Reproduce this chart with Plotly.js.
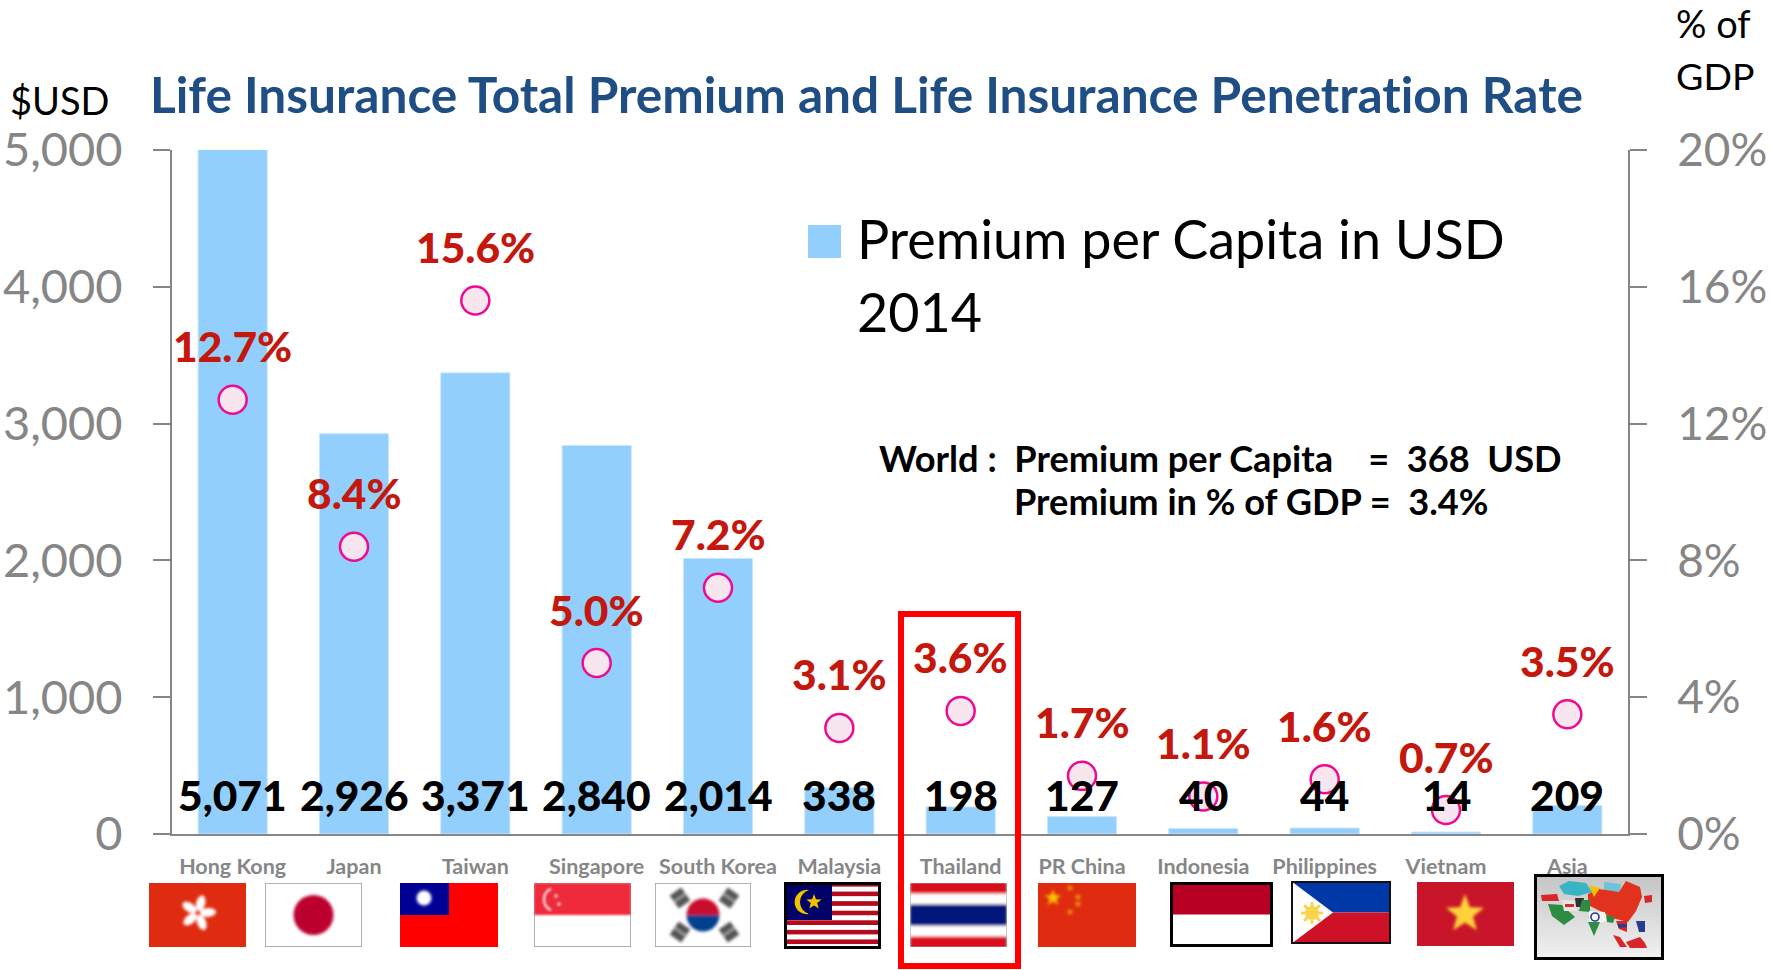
<!DOCTYPE html>
<html>
<head>
<meta charset="utf-8">
<script src="https://cdn.plot.ly/plotly-3.0.1.min.js"></script>
<style>html,body{margin:0;padding:0;background:#fff;overflow:hidden}#chart{width:1771px;height:970px}#chart text{font-variant-ligatures:none !important;font-feature-settings:"liga" 0 !important}</style>
</head>
<body>
<div id="chart"></div>
<script>
const categories = ["Hong Kong","Japan","Taiwan","Singapore","South Korea","Malaysia","Thailand","PR China","Indonesia","Philippines","Vietnam","Asia"];
const premiumPerCapita = [5071,2926,3371,2840,2014,338,198,127,40,44,14,209];
const penetrationRate = [12.7,8.4,15.6,5.0,7.2,3.1,3.6,1.7,1.1,1.6,0.7,3.5];
const penetrationLabels = ["12.7%","8.4%","15.6%","5.0%","7.2%","3.1%","3.6%","1.7%","1.1%","1.6%","0.7%","3.5%"];
const premiumLabels = ["5,071","2,926","3,371","2,840","2,014","338","198","127","40","44","14","209"];
const leftTicks = [0,1000,2000,3000,4000,5000];
const rightTicks = [0,4,8,12,16,20];
const rightTickLabels = ["0%","4%","8%","12%","16%","20%"];

const W = 1771, H = 970, L = 172, R = 1628, T = 150, B = 834;
const FONT = "Lato, Carlito, sans-serif";
const GRAY = "#868686";
const px = x => (x - L) / (R - L);
const py = y => (B - y) / (B - T);

function star(cx, cy, r, fill){
  let p = [];
  for (let i = 0; i < 10; i++){
    const a = -Math.PI/2 + i*Math.PI/5, q = i%2 ? r*0.42 : r;
    p.push((cx+q*Math.cos(a)).toFixed(1)+","+(cy+q*Math.sin(a)).toFixed(1));
  }
  return `<polygon points="${p.join(" ")}" fill="${fill}"/>`;
}
const blur = s => `<defs><filter id="b" x="-20%" y="-20%" width="140%" height="140%"><feGaussianBlur stdDeviation="${s}"/></filter></defs>`;

const flagArt = {
  hk: (w,h)=>{ let pet=""; for(let i=0;i<5;i++) pet+=`<ellipse cx="49" cy="20" rx="4.5" ry="8" fill="#fff" transform="rotate(${i*72+15} 49 30)"/>`;
    return `${blur(1.4)}<rect width="${w}" height="${h}" fill="#DF2C10"/><g filter="url(#b)">${pet}</g>`; },
  jp: (w,h)=>`${blur(1.4)}<rect width="${w}" height="${h}" fill="#fff" stroke="#999" stroke-width="1.5"/><ellipse cx="${w/2}" cy="${h/2}" rx="20" ry="20" fill="#BC002D" filter="url(#b)"/>`,
  tw: (w,h)=>`${blur(1.8)}<rect width="${w}" height="${h}" fill="#FE0000"/><rect width="${w/2}" height="${h/2}" fill="#000095"/><circle cx="24" cy="15" r="7.5" fill="#fff" filter="url(#b)"/>`,
  sg: (w,h)=>`${blur(1.1)}<rect width="${w}" height="${h}" fill="#fff" stroke="#999" stroke-width="1.5"/><rect width="${w}" height="${h/2}" fill="#EE2B3A" filter="url(#b)"/><g filter="url(#b)"><path d="M17 6 A10 11 0 0 0 17 27" fill="none" stroke="#fbd4d6" stroke-width="2.6"/><circle cx="22" cy="13" r="1.8" fill="#fbd4d6"/><circle cx="25" cy="21" r="1.8" fill="#fbd4d6"/></g>`,
  kr: (w,h)=>{ const tri=(x,y,r)=>`<g transform="rotate(${r} ${x} ${y})"><rect x="${x-7}" y="${y-8}" width="14" height="16" fill="#555"/><rect x="${x-8}" y="${y-1}" width="16" height="1.5" fill="#bbb"/></g>`;
    return `${blur(1.6)}<rect width="${w}" height="${h}" fill="#fff" stroke="#999" stroke-width="1.5"/><g filter="url(#b)">${tri(25,15,-35)}${tri(74,15,35)}${tri(25,49,35)}${tri(74,49,-35)}<path d="M31.5 32 A16.5 16.5 0 0 1 64.5 32 Z" fill="#C8102E"/><path d="M31.5 32 A16.5 16.5 0 0 0 64.5 32 Z" fill="#00418C"/></g>`; },
  my: (w,h)=>{ let s=""; for(let i=0;i<14;i++) s+=`<rect y="${i*h/14}" width="${w}" height="${h/14}" fill="${i%2?'#fff':'#B50A1E'}"/>`;
    return `${s}<rect width="48" height="38" fill="#010066"/><path d="M25 8 A12.2 12.2 0 1 0 25 32 A12.5 12.5 0 0 1 25 8" fill="#F2C200"/>${star(30,20,8,"#F2C200")}<rect x="1.5" y="1.5" width="${w-3}" height="${h-3}" fill="none" stroke="#000" stroke-width="3"/>`; },
  th: (w,h)=>`${blur(1.8)}<g filter="url(#b)"><rect y="-4" width="${w}" height="${h+8}" fill="#D90E1A"/><rect y="${h/6}" width="${w}" height="${h*2/3}" fill="#fff"/><rect y="${h/3}" width="${w}" height="${h/3}" fill="#00187A"/></g><rect width="${w}" height="${h}" fill="none" stroke="#999" stroke-width="1"/>`,
  cn: (w,h)=>`${blur(1.5)}<rect width="${w}" height="${h}" fill="#DF2C10"/><g filter="url(#b)">${star(15,15,8.5,"#F8C300")}${star(32,5,3.8,"#EDA010")}${star(40,14,3.8,"#EDA010")}${star(40,21,3.8,"#EDA010")}${star(32,29,3.8,"#EDA010")}</g>`,
  id: (w,h)=>`<rect width="${w}" height="${h}" fill="#fff"/><rect width="${w}" height="${h/2}" fill="#B80024"/><rect x="1.5" y="1.5" width="${w-3}" height="${h-3}" fill="none" stroke="#000" stroke-width="3"/>`,
  ph: (w,h)=>{ let rays=""; for(let i=0;i<8;i++) rays+=`<rect x="20" y="21" width="2.4" height="22" fill="#F7D44A" transform="rotate(${i*45} 21 32)"/>`;
    return `<rect width="${w}" height="${h/2}" fill="#0038A8"/><rect y="${h/2}" width="${w}" height="${h/2}" fill="#CE1126"/><polygon points="0,0 ${w*0.42},${h/2} 0,${h}" fill="#fff"/>${rays}<circle cx="21" cy="32" r="7" fill="#F7D44A"/><rect x="1" y="1" width="${w-2}" height="${h-2}" fill="none" stroke="#111" stroke-width="2"/>`; },
  vn: (w,h)=>`${blur(1.6)}<rect width="${w}" height="${h}" fill="#C9152A"/><g filter="url(#b)">${star(48,32,20,"#FFD23A")}</g>`,
  asia: (w,h)=>`${blur(0.7)}<defs><linearGradient id="g" x1="0" y1="0" x2="0" y2="1"><stop offset="0" stop-color="#c4c4c4"/><stop offset="1" stop-color="#f2f2f2"/></linearGradient></defs>
    <rect width="${w}" height="${h}" fill="url(#g)"/>
    <g filter="url(#b)">
    <polygon points="25,12 35,7 52,9 58,18 44,22 30,20" fill="#38B4C4"/>
    <polygon points="70,8 87,10 86,18 70,17" fill="#6CC4D8"/>
    <polygon points="54,20 65,15 85,18 92,7 106,13 108,23 102,37 94,48 78,44 68,38 54,31" fill="#E0301A"/>
    <polygon points="55,11 66,14 60,23" fill="#F2C200"/>
    <polygon points="7,21 23,20 25,27 8,27" fill="#D8262C"/>
    <polygon points="14,30 28,31 41,43 30,51 18,42" fill="#2E8B42"/>
    <polygon points="28,26 42,27 43,37 30,37" fill="#E8E8E0"/><rect x="31" y="30" width="9" height="3" fill="#D8262C"/>
    <polygon points="41,24 50,24 49,33 42,33" fill="#333"/>
    <polygon points="48,26 56,26 56,38 45,37" fill="#2E8B42"/>
    <polygon points="55,37 71,38 73,47 66,49 55,48" fill="#f4f4f0"/><circle cx="61" cy="43" r="4" fill="none" stroke="#2A3E8C" stroke-width="1.6"/>
    <polygon points="54,48 66,48 60,62" fill="#2E8B42"/>
    <polygon points="72,41 81,43 79,49 73,48" fill="#2E8B42"/>
    <polygon points="82,47 93,47 93,58 85,55" fill="#D8262C"/><rect x="84" y="50" width="9" height="3.5" fill="#2A3E8C"/>
    <polygon points="102,47 111,47 111,58 105,58" fill="#2A3E8C"/>
    <polygon points="110,22 118,21 118,28 111,29" fill="#D8262C"/>
    <polygon points="79,61 86,63 93,73 86,73" fill="#D8262C"/>
    <polygon points="92,68 106,63 111,69 113,74 96,74" fill="#D8262C"/>
    </g>
    <rect x="1.5" y="1.5" width="${w-3}" height="${h-3}" fill="none" stroke="#000" stroke-width="3"/>`
};
const flagBoxes = [
  ["hk",149,883,97,64],["jp",265,883,97,64],["tw",400,883,98,64],["sg",534,883,97,64],
  ["kr",655,883,96,64],["my",784,882,97,67],["th",910,883,97,64],["cn",1038,883,98,64],
  ["id",1170,882,103,65],["ph",1291,881,100,63],["vn",1417,882,97,64],["asia",1534,874,130,86]
];
const images = flagBoxes.map(([k,x,y,w,h])=>{
  const svg = `<svg xmlns="http://www.w3.org/2000/svg" width="${w}" height="${h}" viewBox="0 0 ${w} ${h}">${flagArt[k](w,h)}</svg>`;
  return {source:"data:image/svg+xml,"+encodeURIComponent(svg),xref:"paper",yref:"paper",x:px(x),y:py(y),sizex:w/(R-L),sizey:h/(B-T),sizing:"stretch",xanchor:"left",yanchor:"top",layer:"above"};
});

const note = (text,x,y,size,color,bold,anchor)=>({text,xref:"paper",yref:"paper",x:px(x),y:py(y),xanchor:anchor||"left",yanchor:"middle",showarrow:false,font:{family:FONT,size,color,weight:bold?"bold":"normal"}});

const annotations = [];
categories.forEach((c,i)=>{
  annotations.push({x:c,y:penetrationRate[i],xref:"x",yref:"y2",yshift:54,text:penetrationLabels[i],showarrow:false,yanchor:"middle",xanchor:"center",font:{family:FONT,size:42.5,color:"#C4170D",weight:900}});
});
categories.forEach((c,i)=>{
  annotations.push({x:c,y:py(794),xref:"x",yref:"paper",text:premiumLabels[i],showarrow:false,yanchor:"middle",xanchor:"center",font:{family:FONT,size:42.5,color:"#000",weight:900}});
});
annotations.push(
  note("$USD",8,100,38,"#000",false),
  note("% of",1674,23,38,"#000",false),
  note("GDP",1674,75,37.5,"#000",false),
  note("Premium per Capita in USD",855,238,53.9,"#000",false),
  note("2014",855,311,53.9,"#000",false),
  note("World :\u00A0\u00A0Premium per Capita\u00A0\u00A0\u00A0\u00A0=\u00A0\u00A0368\u00A0\u00A0USD",877,458,36.2,"#000",true),
  note("Premium in % of GDP =\u00A0\u00A03.4%",1012,501,36.2,"#000",true)
);

const shapes = [
  {type:"rect",xref:"paper",yref:"paper",x0:px(808),x1:px(841),y0:py(258),y1:py(225),fillcolor:"#93CFFD",line:{width:0}},
  {type:"rect",xref:"paper",yref:"paper",x0:px(901),x1:px(1018),y0:py(966),y1:py(614),fillcolor:"rgba(0,0,0,0)",line:{color:"#FF0000",width:6},layer:"above"}
];

const traces = [
  {type:"bar",name:"Premium per Capita in USD 2014",x:categories,y:premiumPerCapita,yaxis:"y",marker:{color:"#93CFFD",line:{color:"#C8E6FE",width:1}},cliponaxis:true,hoverinfo:"x+y"},
  {type:"scatter",mode:"markers",name:"Premium in % of GDP",x:categories,y:penetrationRate,yaxis:"y2",marker:{symbol:"circle",size:28,color:"#F8E6EE",line:{color:"#EE0A92",width:2.5}},cliponaxis:false,hoverinfo:"x+y"}
];
const layout = {
  width:W,height:H,showlegend:false,paper_bgcolor:"#fff",plot_bgcolor:"#fff",
  font:{family:FONT},
  margin:{l:L,r:W-R,t:T,b:H-B,pad:0},
  bargap:0.43,
  title:{text:"Life Insurance Total Premium and Life Insurance Penetration Rate",x:150/W,xanchor:"left",xref:"container",y:1-96/H,yanchor:"middle",yref:"container",font:{family:FONT,size:49.6,color:"#1F4E85",weight:"bold"}},
  xaxis:{type:"category",categoryorder:"array",categoryarray:categories,range:[-0.5,11.5],fixedrange:true,showgrid:false,zeroline:false,showline:true,linecolor:GRAY,linewidth:2,ticks:"",ticklabelstandoff:12,tickangle:0,tickfont:{family:FONT,size:21.5,color:GRAY,weight:"bold"},automargin:false},
  yaxis:{range:[0,5000],tickvals:leftTicks,tickformat:",d",fixedrange:true,showgrid:false,zeroline:false,showline:true,linecolor:GRAY,linewidth:2,ticks:"outside",ticklen:17,tickwidth:2,tickcolor:GRAY,ticklabelstandoff:21,tickfont:{family:FONT,size:47,color:GRAY},automargin:false},
  yaxis2:{range:[0,20],overlaying:"y",side:"right",tickvals:rightTicks,ticktext:rightTickLabels,fixedrange:true,showgrid:false,zeroline:false,showline:true,linecolor:GRAY,linewidth:2,ticks:"outside",ticklen:17,tickwidth:2,tickcolor:GRAY,ticklabelstandoff:21,tickfont:{family:FONT,size:46,color:GRAY},automargin:false},
  annotations,shapes,images
};
Plotly.newPlot("chart",traces,layout,{displayModeBar:false,responsive:false});
</script>
</body>
</html>
